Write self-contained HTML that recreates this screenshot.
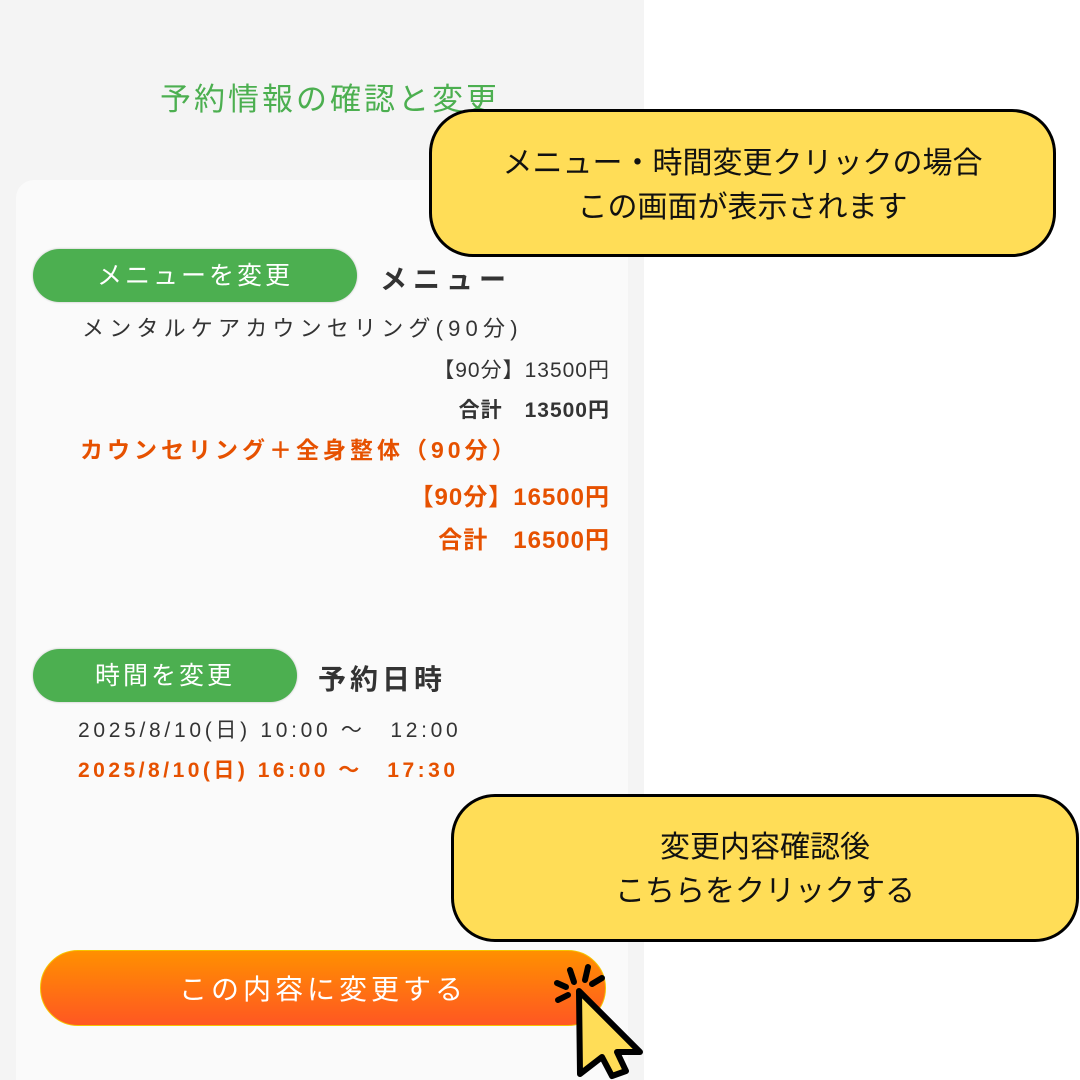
<!DOCTYPE html>
<html><head><meta charset="utf-8"><style>
html,body{margin:0;width:1080px;height:1080px;overflow:hidden;}
body{position:relative;background:#fff;font-family:"Liberation Sans","Noto Sans CJK JP",sans-serif;}
.a{position:absolute;white-space:nowrap;}
.panel{left:0;top:0;width:644px;height:1080px;background:#f4f4f4;}
.card{left:16px;top:180px;width:612px;height:900px;background:#fafafa;border-radius:18px 18px 0 0;}
.pill{background:#4caf50;color:#fff;border-radius:28px;text-align:center;font-size:25px;letter-spacing:3px;box-shadow:0 0 2px #bbb;}
.callout{background:#ffdd57;border:3px solid #000;border-radius:44px;text-align:center;font-size:30px;line-height:44px;color:#111;box-sizing:border-box;}
.k{color:#333;font-size:21px;letter-spacing:1px;}
.o{color:#e65100;font-weight:bold;font-size:22px;letter-spacing:1px;}
</style></head><body>
<div class="a panel"></div>
<div class="a card"></div>
<div class="a" style="left:160px;top:74px;font-size:31px;color:#4caf50;letter-spacing:3px;">予約情報の確認と変更</div>
<div class="a pill" style="left:33px;top:249px;width:324px;height:53px;line-height:55px;">メニューを変更</div>
<div class="a" style="left:380px;top:258px;font-size:27px;font-weight:bold;color:#333;letter-spacing:6px;">メニュー</div>
<div class="a k" style="left:82px;top:311px;font-size:22px;letter-spacing:5.2px;">メンタルケアカウンセリング(90分)</div>
<div class="a k" style="right:470px;top:354px;">【90分】13500円</div>
<div class="a k" style="right:470px;top:394px;font-weight:bold;">合計　13500円</div>
<div class="a o" style="left:80px;top:431px;font-size:23px;letter-spacing:4px;">カウンセリング＋全身整体（90分）</div>
<div class="a o" style="right:470px;top:477px;font-size:24px;">【90分】16500円</div>
<div class="a o" style="right:470px;top:520px;font-size:24px;">合計　16500円</div>
<div class="a pill" style="left:33px;top:649px;width:264px;height:53px;line-height:55px;">時間を変更</div>
<div class="a" style="left:318px;top:658px;font-size:28px;font-weight:bold;color:#333;letter-spacing:4px;">予約日時</div>
<div class="a k" style="left:78px;top:714px;letter-spacing:3.7px;">2025/8/10(日) 10:00 〜　12:00</div>
<div class="a o" style="left:78px;top:754px;font-size:21px;letter-spacing:3.5px;">2025/8/10(日) 16:00 〜　17:30</div>
<div class="a" style="left:40px;top:950px;width:564px;height:74px;border-radius:38px;background:linear-gradient(#ff9000,#ff5722);border:1px solid #f5c400;color:#fff;font-size:28px;letter-spacing:4px;text-align:center;line-height:78px;">この内容に変更する</div>
<div class="a callout" style="left:429px;top:109px;width:627px;height:148px;padding-top:30px;">メニュー・時間変更クリックの場合<br>この画面が表示されます</div>
<div class="a callout" style="left:451px;top:794px;width:628px;height:148px;padding-top:29px;">変更内容確認後<br>こちらをクリックする</div>
<svg class="a" style="left:540px;top:955px" width="120" height="125" viewBox="540 955 120 125">
<g stroke="#000" stroke-width="6" stroke-linecap="round">
<line x1="570" y1="970" x2="574" y2="982"/><line x1="588" y1="967" x2="585" y2="980"/>
<line x1="602" y1="978" x2="592" y2="984"/><line x1="557" y1="983" x2="566" y2="987"/>
<line x1="558" y1="1000" x2="568" y2="995"/></g>
<path d="M579 991 L640 1052 L617 1052 L626 1071 L612 1076 L602 1057 L580 1074 Z" fill="#ffdd57" stroke="#000" stroke-width="6" stroke-linejoin="round"/>
</svg>
</body></html>
